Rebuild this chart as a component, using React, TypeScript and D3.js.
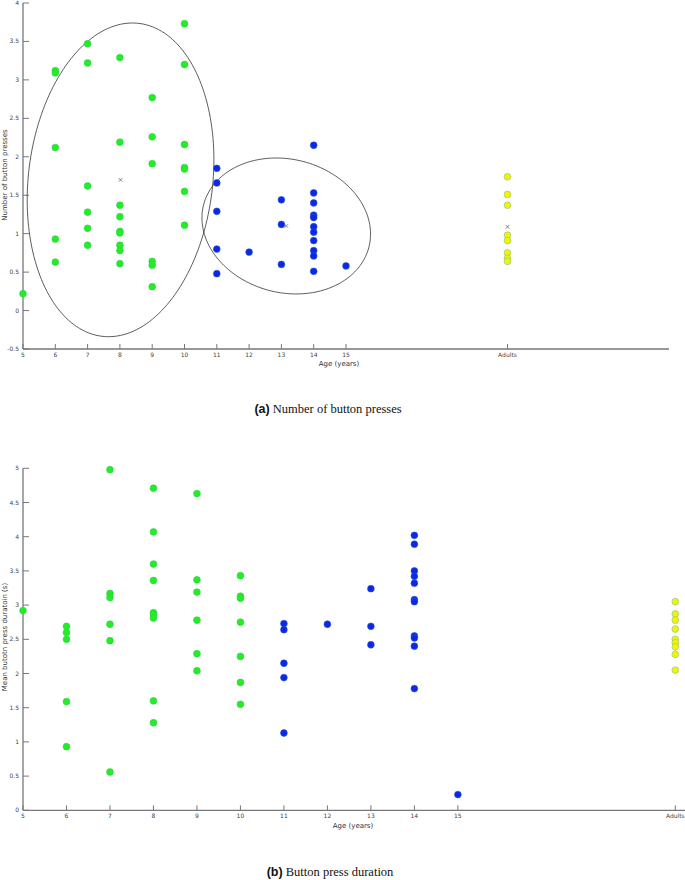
import React from "react";
import * as d3 from "d3";

// ---------- Data ----------
// (a) Number of button presses — green group (ages 5–10)
const greenAgesA = [5, 6, 6, 6, 6, 6, 7, 7, 7, 7, 7, 7, 8, 8, 8, 8, 8, 8, 8, 8, 8, 9, 9, 9, 9, 9, 9, 10, 10, 10, 10, 10, 10, 10];
const greenPressesA = [0.22, 3.12, 3.09, 2.12, 0.93, 0.63, 3.47, 3.22, 1.62, 1.28, 1.07, 0.85, 3.29, 2.19, 1.37, 1.22, 1.03, 1.01, 0.85, 0.78, 0.61, 2.77, 2.26, 1.91, 0.64, 0.59, 0.31, 3.73, 3.2, 2.16, 1.86, 1.84, 1.55, 1.11];
// blue group (ages 11–15)
const blueAgesA = [11, 11, 11, 11, 11, 12, 13, 13, 13, 14, 14, 14, 14, 14, 14, 14, 14, 14, 14, 14, 15];
const bluePressesA = [1.85, 1.66, 1.29, 0.8, 0.48, 0.76, 1.44, 1.12, 0.6, 2.15, 1.53, 1.4, 1.24, 1.21, 1.09, 1.02, 0.91, 0.78, 0.71, 0.51, 0.58];
// adults (placed at x = 20)
const adultPressesA = [1.74, 1.51, 1.37, 0.98, 0.91, 0.75, 0.68, 0.64];
// cluster means
const meansA = [
  { x: 8.02, y: 1.7 },
  { x: 13.15, y: 1.1 },
  { x: 20, y: 1.09 },
];
// cluster ellipses (data units): centre, half-width, half-height, covariance term
const ellipsesA = [
  { cx: 8.02, cy: 1.7, hw: 2.89, hh: 2.04, c: 0.755 },
  { cx: 13.15, cy: 1.1, hw: 2.61, hh: 0.884, c: -0.274 },
];

// (b) Mean button press duration
const greenAgesB = [5, 6, 6, 6, 6, 6, 7, 7, 7, 7, 7, 7, 8, 8, 8, 8, 8, 8, 8, 8, 8, 9, 9, 9, 9, 9, 9, 10, 10, 10, 10, 10, 10, 10];
const greenDurB = [2.92, 2.69, 2.6, 2.5, 1.59, 0.93, 4.98, 3.17, 3.11, 2.72, 2.48, 0.56, 4.71, 4.07, 3.6, 3.36, 2.89, 2.86, 2.81, 1.6, 1.28, 4.63, 3.37, 3.19, 2.78, 2.29, 2.04, 3.43, 3.13, 3.1, 2.75, 2.25, 1.87, 1.55];
const blueAgesB = [11, 11, 11, 11, 11, 12, 13, 13, 13, 14, 14, 14, 14, 14, 14, 14, 14, 14, 14, 14, 15];
const blueDurB = [2.73, 2.64, 2.15, 1.94, 1.13, 2.72, 3.24, 2.69, 2.42, 4.02, 3.89, 3.5, 3.42, 3.32, 3.08, 3.05, 2.55, 2.52, 2.4, 1.78, 0.23];
const adultDurB = [3.05, 2.87, 2.78, 2.65, 2.5, 2.45, 2.39, 2.28, 2.05];

const ageTicks = [5, 6, 7, 8, 9, 10, 11, 12, 13, 14, 15];
const adultTick = 20;
const yTicksA = [-0.5, 0, 0.5, 1, 1.5, 2, 2.5, 3, 3.5, 4];
const yTicksB = [0, 0.5, 1, 1.5, 2, 2.5, 3, 3.5, 4, 4.5, 5];

// ---------- Styles ----------
const GREEN = "#22ee22";
const GREEN_STROKE = "#33cc55";
const BLUE = "#0a28e6";
const BLUE_STROKE = "#2f55cc";
const YELLOW = "#f4f400";
const YELLOW_STROKE = "#7fbfa0";
const AXIS = "#777";
const TICKTXT = "#444";
const FONT = "DejaVu Sans, sans-serif";

type Pt = { x: number; y: number };

function zip(xs: number[], ys: number[]): Pt[] {
  return ys.map((y, i) => ({ x: xs[i], y }));
}

function Axes({
  x, y, xEnd, yTicks, xLabel, xLabelPos, yLabel, yLabelPos,
}: {
  x: d3.ScaleLinear<number, number>;
  y: d3.ScaleLinear<number, number>;
  xEnd: number;
  yTicks: number[];
  xLabel: string;
  xLabelPos: [number, number];
  yLabel: string;
  yLabelPos: [number, number];
}) {
  const y0 = y.range()[0];
  const yTop = y.range()[1];
  const x0 = x.range()[0];
  return (
    <g>
      <line x1={x0} x2={xEnd} y1={y0} y2={y0} stroke={AXIS} strokeWidth={1.3} />
      <line x1={x0} x2={x0} y1={y0} y2={yTop} stroke={AXIS} strokeWidth={1.3} />
      {yTicks.map((t) => (
        <g key={"y" + t}>
          <line x1={x0} x2={x0 + 6} y1={y(t)} y2={y(t)} stroke={AXIS} strokeWidth={1} />
          <text x={x0 - 4} y={y(t) + 2} fontSize={6} fill={TICKTXT} textAnchor="end" fontFamily={FONT}>
            {t}
          </text>
        </g>
      ))}
      {ageTicks.map((t) => (
        <g key={"x" + t}>
          <line x1={x(t)} x2={x(t)} y1={y0} y2={y0 - 5} stroke={AXIS} strokeWidth={1} />
          <text x={x(t)} y={y0 + 7.5} fontSize={6} fill={TICKTXT} textAnchor="middle" fontFamily={FONT}>
            {t}
          </text>
        </g>
      ))}
      <line x1={x(adultTick)} x2={x(adultTick)} y1={y0} y2={y0 - 5} stroke={AXIS} strokeWidth={1} />
      <text x={x(adultTick)} y={y0 + 7.5} fontSize={6} fill={TICKTXT} textAnchor="middle" fontFamily={FONT}>
        Adults
      </text>
      <text x={xLabelPos[0]} y={xLabelPos[1]} fontSize={7} fill="#333" textAnchor="middle" fontFamily={FONT}>
        {xLabel}
      </text>
      <text
        transform={`translate(${yLabelPos[0]},${yLabelPos[1]}) rotate(-90)`}
        fontSize={7}
        fill="#333"
        textAnchor="middle"
        fontFamily={FONT}
      >
        {yLabel}
      </text>
    </g>
  );
}

function Dots({ pts, x, y, fill, stroke }: { pts: Pt[]; x: any; y: any; fill: string; stroke: string }) {
  return (
    <g>
      {pts.map((p, i) => (
        <circle key={i} cx={x(p.x)} cy={y(p.y)} r={3.4} fill={fill} stroke={stroke} strokeWidth={0.6} />
      ))}
    </g>
  );
}

function Cross({ cx, cy }: { cx: number; cy: number }) {
  const s = 1.8;
  return (
    <g stroke="#555" strokeWidth={0.7}>
      <line x1={cx - s} x2={cx + s} y1={cy - s} y2={cy + s} />
      <line x1={cx - s} x2={cx + s} y1={cy + s} y2={cy - s} />
    </g>
  );
}

export default function App() {
  // Panel (a)
  const xA = d3.scaleLinear().domain([5, 25]).range([23, 669]);
  const yA = d3.scaleLinear().domain([-0.5, 4]).range([349, 3]);
  // Panel (b)
  const xB = d3.scaleLinear().domain([5, 20]).range([23, 675.3]);
  const yB = d3.scaleLinear().domain([0, 5]).range([810.3, 468.3]);

  const ts = d3.range(0, 2 * Math.PI + 0.001, Math.PI / 90);
  const ellipsePath = (e: typeof ellipsesA[number]) => {
    const k = e.c / e.hw;
    const m = Math.sqrt(e.hh * e.hh - k * k);
    const line = d3
      .line<number>()
      .x((t) => xA(e.cx + e.hw * Math.cos(t)))
      .y((t) => yA(e.cy + k * Math.cos(t) + m * Math.sin(t)))
      .curve(d3.curveLinearClosed);
    return line(ts) || "";
  };

  return (
    <svg
      width={685}
      height={880}
      style={{ position: "absolute", left: 0, top: 0, background: "#fff" }}
    >
      {/* Panel (a) */}
      <Axes
        x={xA}
        y={yA}
        xEnd={669}
        yTicks={yTicksA}
        xLabel="Age (years)"
        xLabelPos={[339, 366]}
        yLabel="Number of button presses"
        yLabelPos={[7, 175]}
      />
      {ellipsesA.map((e, i) => (
        <path key={i} d={ellipsePath(e)} fill="none" stroke="#333" strokeWidth={0.8} />
      ))}
      <Dots pts={zip(greenAgesA, greenPressesA)} x={xA} y={yA} fill={GREEN} stroke={GREEN_STROKE} />
      <Dots pts={zip(blueAgesA, bluePressesA)} x={xA} y={yA} fill={BLUE} stroke={BLUE_STROKE} />
      <Dots
        pts={adultPressesA.map((v) => ({ x: adultTick, y: v }))}
        x={xA}
        y={yA}
        fill={YELLOW}
        stroke={YELLOW_STROKE}
      />
      {meansA.map((m, i) => (
        <Cross key={i} cx={xA(m.x)} cy={yA(m.y)} />
      ))}
      <text x={328} y={413} textAnchor="middle" fontSize={12.5} fill="#111">
        <tspan fontFamily="Liberation Sans, Arial, sans-serif" fontWeight="bold">(a)</tspan>
        <tspan fontFamily="Liberation Serif, Times New Roman, serif"> Number of button presses</tspan>
      </text>

      {/* Panel (b) */}
      <Axes
        x={xB}
        y={yB}
        xEnd={685}
        yTicks={yTicksB}
        xLabel="Age (years)"
        xLabelPos={[353, 828]}
        yLabel="Mean butotn press duratoin (s)"
        yLabelPos={[7, 637]}
      />
      <Dots pts={zip(greenAgesB, greenDurB)} x={xB} y={yB} fill={GREEN} stroke={GREEN_STROKE} />
      <Dots pts={zip(blueAgesB, blueDurB)} x={xB} y={yB} fill={BLUE} stroke={BLUE_STROKE} />
      <Dots
        pts={adultDurB.map((v) => ({ x: adultTick, y: v }))}
        x={xB}
        y={yB}
        fill={YELLOW}
        stroke={YELLOW_STROKE}
      />
      <text x={330} y={876} textAnchor="middle" fontSize={12.5} fill="#111">
        <tspan fontFamily="Liberation Sans, Arial, sans-serif" fontWeight="bold">(b)</tspan>
        <tspan fontFamily="Liberation Serif, Times New Roman, serif"> Button press duration</tspan>
      </text>
    </svg>
  );
}
